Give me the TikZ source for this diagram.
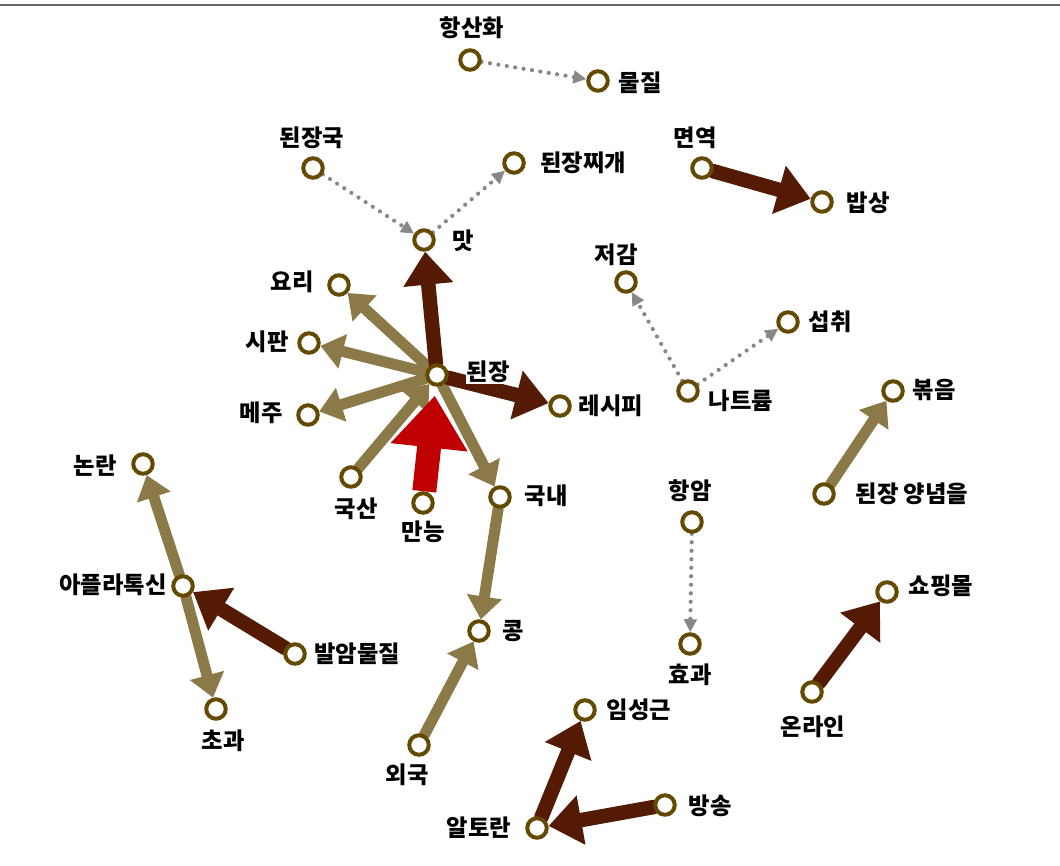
\documentclass[tikz,border=0pt]{standalone}
\usepackage{fontspec}
\setmainfont{Noto Sans CJK KR}
\usetikzlibrary{arrows.meta}
\pgfdeclarelayer{bg}
\pgfsetlayers{bg,main}
\definecolor{ringc}{HTML}{634A00}
\definecolor{olivec}{HTML}{8B7A48}
\definecolor{brownc}{HTML}{541A04}
\definecolor{redc}{HTML}{C00000}
\definecolor{grayc}{HTML}{888888}
\definecolor{rulec}{HTML}{666666}
\begin{document}
\begin{tikzpicture}[x=1pt,y=-1pt,
 v/.style={circle,draw=ringc,fill=white,line width=4pt,minimum size=19.5pt,inner sep=0pt},
 lab/.style={font=\fontsize{23.3}{25}\selectfont\bfseries,text=black,inner sep=1pt,fill=white},
 olive/.style={draw=olivec,line width=11pt,line cap=round,-{Triangle[length=23pt,width=34pt]}},
 brownar/.style={draw=brownc,line width=14.5pt,line cap=round,-{Triangle[length=33pt,width=48pt]}},
 redar/.style={draw=redc,line width=24pt,-{Triangle[length=52pt,width=74pt]}},
 dots/.style={draw=grayc,line width=4.2pt,line cap=round,dash pattern=on 0pt off 8.5pt,-{Triangle[length=13pt,width=12.5pt]}},
]
\useasboundingbox (0,0) rectangle (1060,866);
\coordinate (ruleL) at (0,5);
\coordinate (ruleR) at (1060,5);
\draw[rulec,line width=2pt] (ruleL) -- (ruleR);

% vertices
\node[v] (hangsan) at (470,60) {};
\node[v] (muljil) at (598,81) {};
\node[v] (dgk) at (313,168) {};
\node[v] (dgjj) at (514,163) {};
\node[v] (mat) at (424,240) {};
\node[v] (myeon) at (702,168) {};
\node[v] (bap) at (822,202) {};
\node[v] (jeo) at (626,282) {};
\node[v] (seop) at (788,322) {};
\node[v] (yori) at (339,285) {};
\node[v] (sipan) at (309,343) {};
\node[v] (dj) at (437,375) {};
\node[v] (rec) at (560,406) {};
\node[v] (meju) at (308,415) {};
\node[v] (nat) at (688,391) {};
\node[v] (bok) at (893,391) {};
\node[v] (nonran) at (143,464) {};
\node[v] (guksan) at (351,477) {};
\node[v] (manneung) at (423,503) {};
\node[v] (guknae) at (500,497) {};
\node[v] (hangam) at (692,522) {};
\node[v] (yang) at (824,494) {};
\node[v] (afla) at (183,586) {};
\node[v] (shop) at (887,592) {};
\node[v] (kong) at (479,631) {};
\node[v] (bal) at (295,654) {};
\node[v] (hyo) at (690,644) {};
\node[v] (online) at (812,692) {};
\node[v] (chogwa) at (216,709) {};
\node[v] (im) at (585,710) {};
\node[v] (oeguk) at (419,745) {};
\node[v] (bang) at (665,805) {};
\node[v] (alto) at (537,828) {};

% labels
\node[lab] (l1) at (472,28) {항산화};
\node[lab] (l2) at (640,83) {물질};
\node[lab] (l3) at (312,138) {된장국};
\node[lab] (l4) at (583,163) {된장찌개};
\node[lab] (l5) at (463,241) {맛};
\node[lab] (l6) at (695,138) {면역};
\node[lab] (l7) at (868,203) {밥상};
\node[lab] (l8) at (616,255) {저감};
\node[lab] (l9) at (830,322) {섭취};
\node[lab] (l10) at (292,282) {요리};
\node[lab] (l11) at (267,342) {시판};
\node[lab] (l12) at (488,372) {된장};
\node[lab] (l13) at (611,406) {레시피};
\node[lab] (l14) at (261,413) {메주};
\node[lab] (l15) at (741,401) {나트륨};
\node[lab] (l16) at (934,390) {볶음};
\node[lab] (l17) at (95,466) {논란};
\node[lab] (l18) at (356,509) {국산};
\node[lab] (l19) at (423,532) {만능};
\node[lab] (l20) at (546,496) {국내};
\node[lab] (l21) at (690,491) {항암};
\node[lab] (l22) at (912,494) {된장 양념을};
\node[lab] (l23) at (113,585) {아플라톡신};
\node[lab] (l24) at (941,586) {쇼핑몰};
\node[lab] (l25) at (513,631) {콩};
\node[lab] (l26) at (357,654) {발암물질};
\node[lab] (l27) at (690,675) {효과};
\node[lab] (l28) at (813,727) {온라인};
\node[lab] (l29) at (223,741) {초과};
\node[lab] (l30) at (639,710) {임성근};
\node[lab] (l31) at (407,775) {외국};
\node[lab] (l32) at (710,806) {방송};
\node[lab] (l33) at (479,828) {알토란};

\begin{pgfonlayer}{bg}
% dotted
\draw[dots] (hangsan) -- (muljil);
\draw[dots] (dgk) -- (mat);
\draw[dots] (mat) -- (dgjj);
\draw[dots] (nat) -- (jeo);
\draw[dots] (nat) -- (seop);
\draw[dots] (hangam) -- (hyo);
% olive
\draw[olive] (dj) -- (yori);
\draw[olive] (dj) -- (sipan);
\draw[olive] (dj) -- (meju);
\draw[olive] (guksan) -- (dj);
\draw[olive] (dj) -- (guknae);
\draw[olive] (guknae) -- (kong);
\draw[olive] (oeguk) -- (kong);
\draw[olive] (afla) -- (nonran);
\draw[olive] (afla) -- (chogwa);
\draw[olive] (yang) -- (bok);
% brown
\draw[brownar] (dj) -- (mat);
\draw[brownar] (dj) -- (rec);
\draw[brownar] (myeon) -- (bap);
\draw[brownar] (bal) -- (afla);
\draw[brownar] (online) -- (shop);
\draw[brownar] (alto) -- (im);
\draw[brownar] (bang) -- (alto);
% red
\draw[redar,shorten >=9pt] (manneung) -- (dj);
\end{pgfonlayer}
\end{tikzpicture}
\end{document}
